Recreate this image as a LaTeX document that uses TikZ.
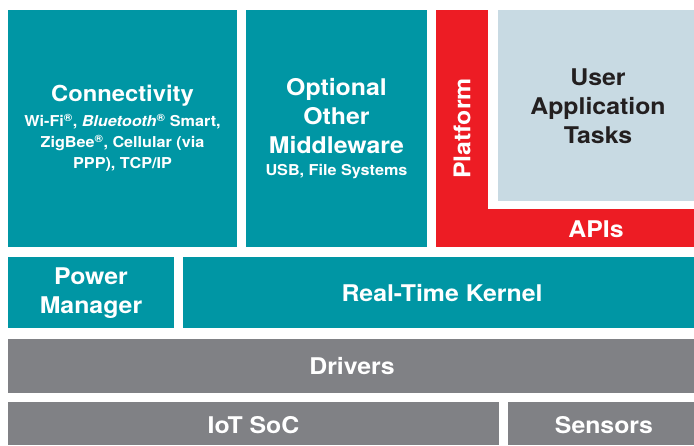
\documentclass[tikz,border=0pt]{standalone}
\usepackage{fontspec}
\setmainfont{TeX Gyre Heros}[FakeStretch=1.08]
\definecolor{stackteal}{RGB}{0,150,164}
\definecolor{stackred}{RGB}{237,28,36}
\definecolor{stackblue}{RGB}{200,218,227}
\definecolor{stackgray}{RGB}{128,129,133}
\definecolor{stackink}{RGB}{35,31,32}
\tikzset{
  biglabel/.style={text=white, align=center, inner sep=0pt,
    font=\bfseries\fontsize{23}{29}\selectfont},
  smalllabel/.style={text=white, align=center, inner sep=0pt,
    font=\bfseries\fontsize{15}{21}\selectfont}
}

\begin{document}
\begin{tikzpicture}[x=1pt,y=-1pt]
    \useasboundingbox (0,0) rectangle (694,445);

    % Draw top row
    \fill[stackteal] (8,10) rectangle (237,247);
    \fill[stackteal] (246,10) rectangle (427,247);
    \fill[stackred] (436,10) rectangle (488,247);
    \fill[stackred] (436,209) rectangle (694,247);
    \fill[stackblue] (498,10) rectangle (694,201);

    % Draw kernel row
    \fill[stackteal] (8,257) rectangle (174,328);
    \fill[stackteal] (183,257) rectangle (694,328);

    % Draw hardware rows
    \fill[stackgray] (8,339) rectangle (694,393);
    \fill[stackgray] (8,402) rectangle (499,445);
    \fill[stackgray] (508,402) rectangle (694,445);

    % Labels of the top row
    \node[biglabel, font=\bfseries\fontsize{22}{29}\selectfont] (conn) at (122.5,96) {Connectivity};
    \node[smalllabel] (conndetail) at (122.5,143)
        {Wi-Fi\textsuperscript{\textregistered}, \textit{Bluetooth}\textsuperscript{\textregistered} Smart,\\
         ZigBee\textsuperscript{\textregistered}, Cellular (via\\ PPP), TCP/IP};
    \node[biglabel] (mid) at (336.5,116) {Optional\\ Other\\ Middleware};
    \node[smalllabel] (middetail) at (336.5,172) {USB, File Systems};
    \node[biglabel, text=stackink] (user) at (598,106) {User\\ Application\\ Tasks};
    \node[biglabel, rotate=90] (platform) at (462,128.5) {Platform};
    \node[biglabel] (apis) at (596,229) {APIs};

    % Labels of the lower rows
    \node[biglabel] (power) at (91,293) {Power\\ Manager};
    \node[biglabel] (kernel) at (442,293) {Real-Time Kernel};
    \node[biglabel] (drivers) at (352,366.5) {Drivers};
    \node[biglabel] (soc) at (253.5,425) {IoT SoC};
    \node[biglabel] (sensors) at (604,425) {Sensors};
\end{tikzpicture}
\end{document}
